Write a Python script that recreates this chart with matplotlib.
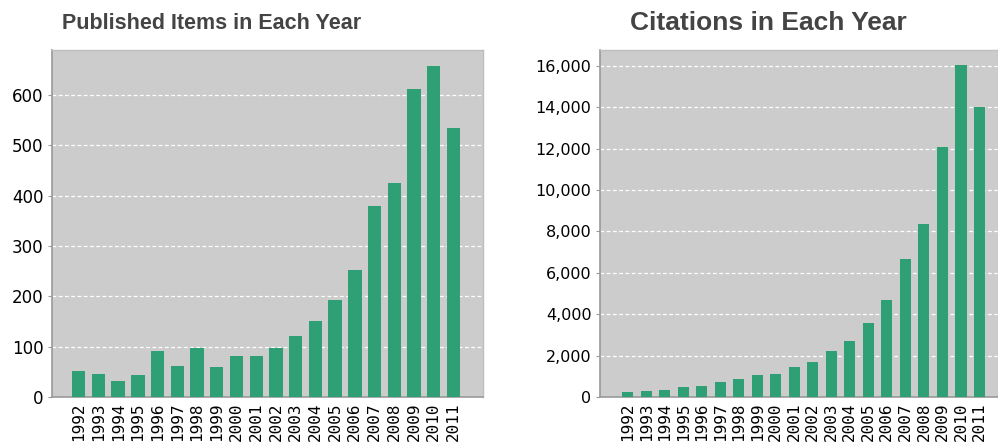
import matplotlib
matplotlib.use('Agg')
import matplotlib.pyplot as plt
from matplotlib.ticker import FuncFormatter

##########DATA##########
years = [str(y) for y in range(1992, 2012)]
published = [52, 45, 32, 43, 92, 62, 97, 60, 82, 82,
             97, 121, 151, 193, 252, 380, 425, 613, 658, 534]
citations = [250, 310, 320, 485, 550, 730, 845, 1040, 1100, 1455,
             1685, 2230, 2720, 3560, 4690, 6680, 8350, 12060, 16020, 14000]

##########STYLE##########
BAR = '#2fa075'
BG = '#cccccc'
TITLE = '#444444'

fig = plt.figure(figsize=(9.98, 4.46), dpi=100)
fig.patch.set_facecolor('white')

def panel(rect, values, ymax, step, fmt, width, xlo, xhi, ysize):
    ax = fig.add_axes(rect)
    ax.set_facecolor(BG)
    x = range(len(values))
    ax.bar(x, values, width=width, color=BAR, zorder=3)
    ax.set_xlim(xlo, len(values) - 1 + xhi)
    ax.set_ylim(0, ymax)
    ax.set_yticks(range(0, int(ymax) + 1, step))
    ax.yaxis.set_major_formatter(FuncFormatter(fmt))
    ax.set_xticks(list(x))
    ax.set_xticklabels(years, rotation=90, fontsize=11.5, family='DejaVu Sans Mono')
    ax.tick_params(axis='y', labelsize=ysize, length=3, color='#999999', pad=3)
    ax.tick_params(axis='x', length=0, pad=4)
    ax.grid(axis='y', color='white', linestyle=(0, (3, 2)), linewidth=0.9, zorder=1)
    for s in ['top', 'right']:
        ax.spines[s].set_color('#bdbdbd')
        ax.spines[s].set_linewidth(1.0)
    for s in ['left', 'bottom']:
        ax.spines[s].set_color('#999999')
        ax.spines[s].set_linewidth(1.2)
    return ax

panel([0.052, 0.110, 0.432, 0.778], published, 690, 100,
      lambda v, p: f'{int(v)}', 0.68, -1.36, 1.5, 12)
panel([0.601, 0.110, 0.399, 0.778], citations, 16770, 2000,
      lambda v, p: f'{int(v):,}', 0.6, -1.5, 1.0, 11.5)

fig.text(0.062, 0.948, 'Published Items in Each Year', fontsize=15.5,
         fontweight='bold', color=TITLE, family='Liberation Sans', va='center')
fig.text(0.631, 0.948, 'Citations in Each Year', fontsize=19,
         fontweight='bold', color=TITLE, family='Liberation Sans', va='center')

fig.savefig('out.png', dpi=100, facecolor='white')
